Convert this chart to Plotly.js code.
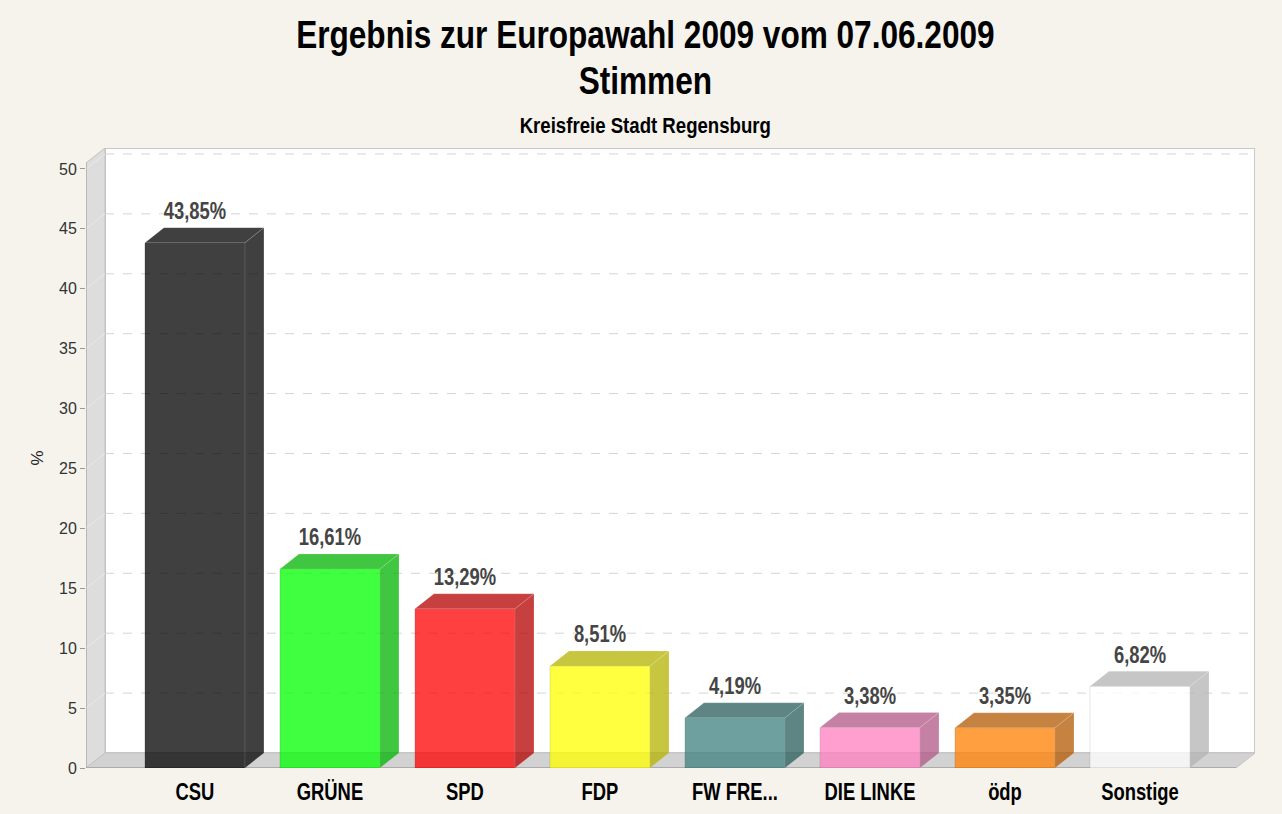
<!DOCTYPE html>
<html>
<head>
<meta charset="utf-8">
<script src="https://cdn.plot.ly/plotly-3.0.1.min.js"></script>
<style>html,body{margin:0;padding:0;background:#f5f3ec;}#chart{width:1282px;height:814px;}</style>
</head>
<body>
<div id="chart"></div>
<script>
// ---- data ----
const categories = ['CSU', 'GRÜNE', 'SPD', 'FDP', 'FW FRE...', 'DIE LINKE', 'ödp', 'Sonstige'];
const values = [43.85, 16.61, 13.29, 8.51, 4.19, 3.38, 3.35, 6.82];
const valueLabels = ['43,85%', '16,61%', '13,29%', '8,51%', '4,19%', '3,38%', '3,35%', '6,82%'];
const yTickValues = [0, 5, 10, 15, 20, 25, 30, 35, 40, 45, 50];
const titleLines = ['Ergebnis zur Europawahl 2009 vom 07.06.2009', 'Stimmen'];
const subtitle = 'Kreisfreie Stadt Regensburg';
const yTitle = '%';

// ---- style ----
const frontColors = ['#404040', '#40ff40', '#ff4040', '#ffff40', '#6fa0a0', '#ff9fd0', '#ff9f40', '#ffffff'];
const shadeColors = ['#3c3c3c', '#3cc63c', '#c63c3c', '#c6c63c', '#5f8484', '#c481a4', '#c6823c', '#c6c6c6'];
const ALPHA = 0.75;
// colour that, drawn at ALPHA over white, gives the target colour
function translucent(hex) {
  const n = parseInt(hex.slice(1), 16);
  const ch = [(n >> 16) & 255, (n >> 8) & 255, n & 255].map(t => Math.max(0, Math.round((t - 255 * (1 - ALPHA)) / ALPHA)));
  return `rgba(${ch[0]},${ch[1]},${ch[2]},${ALPHA})`;
}
const FONT = '"Liberation Sans", Arial, sans-serif';
const BAR_W = 0.741;   // bar width in category units
const DX = 0.1407;     // 3D depth, x units
const DY = 1.252;      // 3D depth, y units
const LABEL_GAP = 0.25; // extra space above bar tops for value labels, y units
const X0 = -0.807, X1 = 7.852;
const YTOP = 51.75;
const TITLE_X = 0.4785;

const idx = categories.map((_, i) => i);
const traces = [];

traces.push({
  type: 'bar', x: idx, y: values, width: BAR_W,
  marker: {color: frontColors.map(translucent), line: {color: 'rgba(0,0,0,0.10)', width: 1}},
  hoverinfo: 'skip', showlegend: false
});

idx.forEach(i => {
  const v = values[i];
  const l = i - BAR_W / 2, r = i + BAR_W / 2;
  const c = translucent(shadeColors[i]);
  // top face
  traces.push({
    type: 'scatter', mode: 'lines', fill: 'toself', fillcolor: c,
    x: [l, l + DX, r + DX, r, l], y: [v, v + DY, v + DY, v, v],
    line: {color: 'rgba(255,255,255,0.15)', width: 1}, hoverinfo: 'skip', showlegend: false
  });
  // side face
  traces.push({
    type: 'scatter', mode: 'lines', fill: 'toself', fillcolor: c,
    x: [r, r + DX, r + DX, r, r], y: [0, DY, v + DY, v, 0],
    line: {color: 'rgba(255,255,255,0.15)', width: 1}, hoverinfo: 'skip', showlegend: false
  });
});

traces.push({
  type: 'scatter', mode: 'text', x: idx, y: values.map(v => v + DY + LABEL_GAP),
  text: valueLabels, textposition: 'top center',
  textfont: {family: FONT, size: 23, color: '#454545', weight: 'bold'},
  hoverinfo: 'skip', showlegend: false, cliponaxis: false
});

const shapes = [];
// back wall
shapes.push({type: 'rect', xref: 'x', yref: 'y', x0: X0 + DX, x1: X1, y0: DY, y1: YTOP,
  fillcolor: '#ffffff', line: {color: '#c8c8c8', width: 2}, layer: 'below'});
// grid lines on back wall
yTickValues.filter(v => v > 0).forEach(v => {
  shapes.push({type: 'line', xref: 'x', yref: 'y', x0: X0 + DX, x1: X1, y0: v + DY, y1: v + DY,
    line: {color: '#d4d4d4', width: 1, dash: 'dash'}, layer: 'below'});
});
// left wall
shapes.push({type: 'path', xref: 'x', yref: 'y',
  path: `M ${X0},0 L ${X0},${YTOP - DY} L ${X0 + DX},${YTOP} L ${X0 + DX},${DY} Z`,
  fillcolor: '#dddddd', line: {color: '#c0c0c0', width: 1}, layer: 'below'});
yTickValues.filter(v => v > 0).forEach(v => {
  shapes.push({type: 'line', xref: 'x', yref: 'y', x0: X0, x1: X0 + DX, y0: v, y1: v + DY,
    line: {color: '#e9e9e9', width: 1}, layer: 'below'});
});
// axis line
shapes.push({type: 'line', xref: 'x', yref: 'y', x0: X0, x1: X0, y0: 0, y1: YTOP - DY,
  line: {color: '#a0a0a0', width: 1}, layer: 'below'});
// floor
shapes.push({type: 'path', xref: 'x', yref: 'y',
  path: `M ${X0},0 L ${X0 + DX},${DY} L ${X1},${DY} L ${X1 - DX},0 Z`,
  fillcolor: '#d2d2d2', line: {color: '#c4c4c4', width: 1}, layer: 'below'});
shapes.push({type: 'line', xref: 'x', yref: 'y', x0: X0, x1: X1 - DX, y0: 0, y1: 0,
  line: {color: '#a0a0a0', width: 1.5}, layer: 'below'});

const annotations = [
  {text: titleLines[0], xref: 'paper', yref: 'paper', x: TITLE_X, y: (768 - 34) / 620, xanchor: 'center', yanchor: 'middle',
   showarrow: false, font: {family: FONT, size: 39, color: '#000', weight: 'bold'}},
  {text: titleLines[1], xref: 'paper', yref: 'paper', x: TITLE_X, y: (768 - 80) / 620, xanchor: 'center', yanchor: 'middle',
   showarrow: false, font: {family: FONT, size: 39, color: '#000', weight: 'bold'}},
  {text: subtitle, xref: 'paper', yref: 'paper', x: TITLE_X, y: (768 - 125) / 620, xanchor: 'center', yanchor: 'middle',
   showarrow: false, font: {family: FONT, size: 23, color: '#000', weight: 'bold'}}
];

const layout = {
  width: 1282, height: 814,
  margin: {l: 86, r: 27, t: 148, b: 46, pad: 0},
  paper_bgcolor: '#f5f3ec', plot_bgcolor: 'rgba(0,0,0,0)',
  showlegend: false,
  xaxis: {range: [X0, X1], tickvals: idx, ticktext: categories, showgrid: false, zeroline: false,
    showline: false, ticks: '', ticklabelstandoff: 8,
    tickfont: {family: FONT, size: 23, color: '#000', weight: 'bold'}, fixedrange: true},
  yaxis: {range: [0, YTOP], tickvals: yTickValues, ticktext: yTickValues.map(String), showgrid: false, zeroline: false,
    showline: false, ticks: 'outside', ticklen: 5, tickcolor: '#999', tickfont: {family: FONT, size: 16, color: '#333'},
    title: {text: yTitle, font: {family: FONT, size: 17, color: '#222'}, standoff: 11}, fixedrange: true},
  shapes: shapes,
  annotations: annotations
};

// narrow the bold labels horizontally (condensed look of the original)
function condense(selector, s) {
  document.querySelectorAll(selector).forEach(t => {
    const bb = t.getBBox();
    const cx = bb.x + bb.width / 2;
    const tr = t.getAttribute('transform') || '';
    t.setAttribute('transform', `${tr} translate(${cx},0) scale(${s},1) translate(${-cx},0)`);
  });
}

Plotly.newPlot('chart', traces, layout, {displayModeBar: false, staticPlot: true}).then(() => {
  condense('#chart .annotation-text', 0.81);
  condense('#chart .xtick text', 0.8);
  condense('#chart .textpoint text', 0.8);
});
</script>
</body>
</html>
